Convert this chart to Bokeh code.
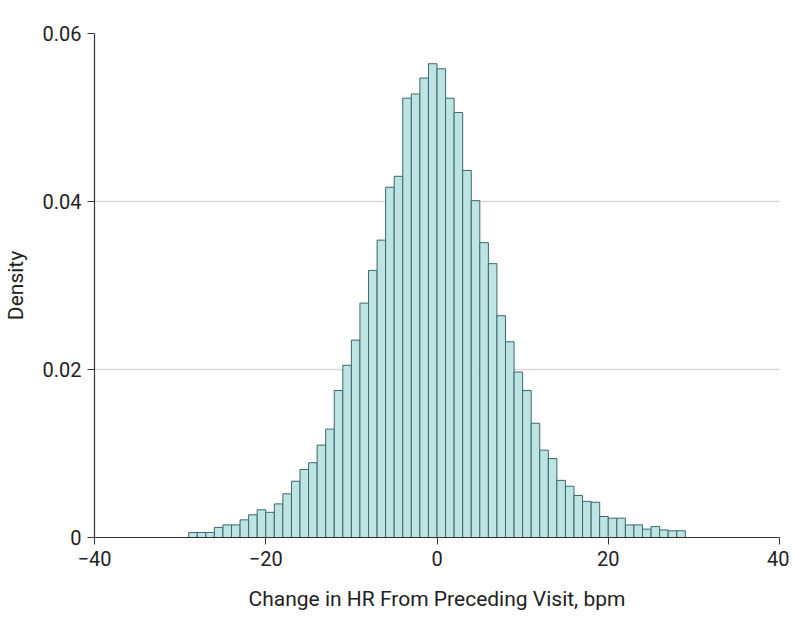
from bokeh.plotting import figure
from bokeh.models import FixedTicker, Range1d
from bokeh.embed import file_html
from bokeh.resources import INLINE

# Histogram bin left edges (bpm) and densities
bin_left = list(range(-29, 29))
density = [
    0.0006, 0.0006, 0.0006, 0.0012, 0.0015, 0.0015, 0.0021, 0.0027, 0.0033, 0.0030,
    0.0040, 0.0052, 0.0067, 0.0081, 0.0089, 0.0110, 0.0129, 0.0175, 0.0205, 0.0235,
    0.0279, 0.0318, 0.0354, 0.0417, 0.0430, 0.0523, 0.0528, 0.0547, 0.0564, 0.0558,
    0.0523, 0.0506, 0.0437, 0.0401, 0.0351, 0.0326, 0.0264, 0.0233, 0.0197, 0.0175,
    0.0136, 0.0104, 0.0094, 0.0068, 0.0061, 0.0050, 0.0043, 0.0042, 0.0025, 0.0023,
    0.0023, 0.0015, 0.0015, 0.0010, 0.0013, 0.0009, 0.0008, 0.0008,
]
bin_width = 1
x_ticks = [-40, -20, 0, 20, 40]
x_labels = {-40: "\u221240", -20: "\u221220", 0: "0", 20: "20", 40: "40"}
y_ticks = [0, 0.02, 0.04, 0.06]
y_labels = {0: "0", 0.02: "0.02", 0.04: "0.04", 0.06: "0.06"}

FONT = "Roboto"

p = figure(
    frame_width=685, frame_height=504,
    x_range=Range1d(-40, 40), y_range=Range1d(0, 0.06),
    output_backend="svg", toolbar_location=None,
    min_border_left=93, min_border_right=10, min_border_top=33, min_border_bottom=70,
)
p.outline_line_color = None
p.background_fill_color = "white"

p.quad(left=[b for b in bin_left], right=[b + bin_width for b in bin_left],
       bottom=0, top=density,
       fill_color="#bde4e2", line_color="#3a6770", line_width=1)

p.xgrid.grid_line_color = None
p.ygrid.ticker = FixedTicker(ticks=y_ticks)
p.ygrid.grid_line_color = "#d6d6d6"
p.ygrid.grid_line_width = 1.5

for ax in (p.xaxis[0], p.yaxis[0]):
    ax.axis_line_color = "#333333"
    ax.axis_line_width = 1.2
    ax.major_tick_line_color = "#333333"
    ax.major_tick_out = 7
    ax.major_tick_in = 0
    ax.minor_tick_line_color = None
    ax.major_label_text_font = FONT
    ax.major_label_text_font_size = "20px"
    ax.major_label_text_color = "#222222"
    ax.axis_label_text_font = FONT
    ax.axis_label_text_font_size = "21px"
    ax.axis_label_text_font_style = "normal"
    ax.axis_label_text_color = "#222222"

p.xaxis[0].ticker = FixedTicker(ticks=x_ticks)
p.xaxis[0].major_label_overrides = x_labels
p.xaxis[0].major_label_standoff = 6
p.xaxis[0].axis_label = "Change in HR From Preceding Visit, bpm"
p.xaxis[0].axis_label_standoff = 18

p.yaxis[0].ticker = FixedTicker(ticks=y_ticks)
p.yaxis[0].major_label_overrides = y_labels
p.yaxis[0].major_label_standoff = 6
p.yaxis[0].axis_label = "Density"
p.yaxis[0].axis_label_standoff = 12

open("out.html", "w").write(file_html(p, INLINE))
